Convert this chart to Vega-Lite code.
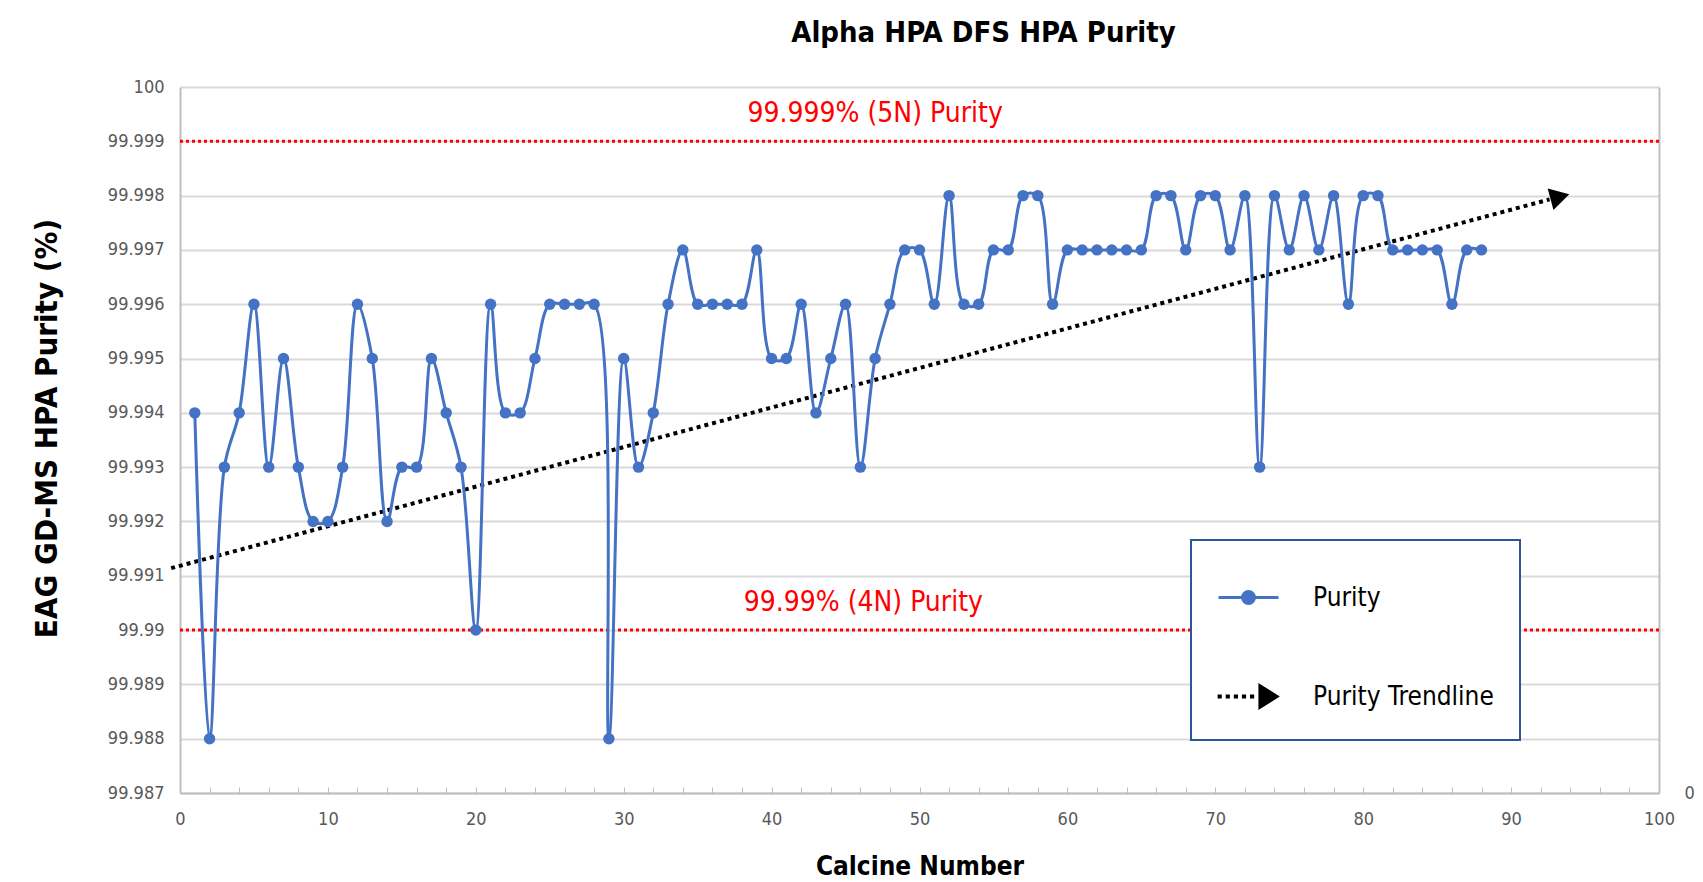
{
  "$schema": "https://vega.github.io/schema/vega-lite/v6.json",
  "width": 1479,
  "height": 706,
  "autosize": {"type": "none"},
  "padding": {"left": 180, "top": 87, "right": 44, "bottom": 89},
  "background": "white",
  "title": {
    "text": "Alpha HPA DFS HPA Purity",
    "anchor": "middle",
    "dx": 64,
    "offset": 30,
    "fontSize": 29,
    "fontWeight": "bold",
    "font": "'Liberation Sans Narrow', 'Arial Narrow', 'DejaVu Sans Condensed', sans-serif",
    "color": "#000000"
  },
  "config": {
    "view": {"stroke": null},
    "font": "'Liberation Sans Narrow', 'Arial Narrow', 'DejaVu Sans Condensed', sans-serif",
    "axis": {
      "labelFont": "'Liberation Sans Narrow', 'Arial Narrow', 'DejaVu Sans Condensed', sans-serif",
      "titleFont": "'Liberation Sans Narrow', 'Arial Narrow', 'DejaVu Sans Condensed', sans-serif",
      "labelFontSize": 18,
      "labelColor": "#595959",
      "titleFontSize": 26,
      "titleFontWeight": "bold",
      "titleColor": "#000000",
      "domainColor": "#bfbfbf",
      "domainWidth": 2,
      "tickColor": "#bfbfbf",
      "gridColor": "#d9d9d9",
      "gridWidth": 2
    },
    "axisX": {"labelOverlap": false, "labelFlush": false},
    "legend": {
      "labelFont": "'Liberation Sans Narrow', 'Arial Narrow', 'DejaVu Sans Condensed', sans-serif",
      "labelLimit": 400
    }
  },
  "datasets": {
    "purity": [
      {"calcine": 1, "purity": 99.994, "series": "Purity"},
      {"calcine": 2, "purity": 99.988, "series": "Purity"},
      {"calcine": 3, "purity": 99.993, "series": "Purity"},
      {"calcine": 4, "purity": 99.994, "series": "Purity"},
      {"calcine": 5, "purity": 99.996, "series": "Purity"},
      {"calcine": 6, "purity": 99.993, "series": "Purity"},
      {"calcine": 7, "purity": 99.995, "series": "Purity"},
      {"calcine": 8, "purity": 99.993, "series": "Purity"},
      {"calcine": 9, "purity": 99.992, "series": "Purity"},
      {"calcine": 10, "purity": 99.992, "series": "Purity"},
      {"calcine": 11, "purity": 99.993, "series": "Purity"},
      {"calcine": 12, "purity": 99.996, "series": "Purity"},
      {"calcine": 13, "purity": 99.995, "series": "Purity"},
      {"calcine": 14, "purity": 99.992, "series": "Purity"},
      {"calcine": 15, "purity": 99.993, "series": "Purity"},
      {"calcine": 16, "purity": 99.993, "series": "Purity"},
      {"calcine": 17, "purity": 99.995, "series": "Purity"},
      {"calcine": 18, "purity": 99.994, "series": "Purity"},
      {"calcine": 19, "purity": 99.993, "series": "Purity"},
      {"calcine": 20, "purity": 99.990, "series": "Purity"},
      {"calcine": 21, "purity": 99.996, "series": "Purity"},
      {"calcine": 22, "purity": 99.994, "series": "Purity"},
      {"calcine": 23, "purity": 99.994, "series": "Purity"},
      {"calcine": 24, "purity": 99.995, "series": "Purity"},
      {"calcine": 25, "purity": 99.996, "series": "Purity"},
      {"calcine": 26, "purity": 99.996, "series": "Purity"},
      {"calcine": 27, "purity": 99.996, "series": "Purity"},
      {"calcine": 28, "purity": 99.996, "series": "Purity"},
      {"calcine": 29, "purity": 99.988, "series": "Purity"},
      {"calcine": 30, "purity": 99.995, "series": "Purity"},
      {"calcine": 31, "purity": 99.993, "series": "Purity"},
      {"calcine": 32, "purity": 99.994, "series": "Purity"},
      {"calcine": 33, "purity": 99.996, "series": "Purity"},
      {"calcine": 34, "purity": 99.997, "series": "Purity"},
      {"calcine": 35, "purity": 99.996, "series": "Purity"},
      {"calcine": 36, "purity": 99.996, "series": "Purity"},
      {"calcine": 37, "purity": 99.996, "series": "Purity"},
      {"calcine": 38, "purity": 99.996, "series": "Purity"},
      {"calcine": 39, "purity": 99.997, "series": "Purity"},
      {"calcine": 40, "purity": 99.995, "series": "Purity"},
      {"calcine": 41, "purity": 99.995, "series": "Purity"},
      {"calcine": 42, "purity": 99.996, "series": "Purity"},
      {"calcine": 43, "purity": 99.994, "series": "Purity"},
      {"calcine": 44, "purity": 99.995, "series": "Purity"},
      {"calcine": 45, "purity": 99.996, "series": "Purity"},
      {"calcine": 46, "purity": 99.993, "series": "Purity"},
      {"calcine": 47, "purity": 99.995, "series": "Purity"},
      {"calcine": 48, "purity": 99.996, "series": "Purity"},
      {"calcine": 49, "purity": 99.997, "series": "Purity"},
      {"calcine": 50, "purity": 99.997, "series": "Purity"},
      {"calcine": 51, "purity": 99.996, "series": "Purity"},
      {"calcine": 52, "purity": 99.998, "series": "Purity"},
      {"calcine": 53, "purity": 99.996, "series": "Purity"},
      {"calcine": 54, "purity": 99.996, "series": "Purity"},
      {"calcine": 55, "purity": 99.997, "series": "Purity"},
      {"calcine": 56, "purity": 99.997, "series": "Purity"},
      {"calcine": 57, "purity": 99.998, "series": "Purity"},
      {"calcine": 58, "purity": 99.998, "series": "Purity"},
      {"calcine": 59, "purity": 99.996, "series": "Purity"},
      {"calcine": 60, "purity": 99.997, "series": "Purity"},
      {"calcine": 61, "purity": 99.997, "series": "Purity"},
      {"calcine": 62, "purity": 99.997, "series": "Purity"},
      {"calcine": 63, "purity": 99.997, "series": "Purity"},
      {"calcine": 64, "purity": 99.997, "series": "Purity"},
      {"calcine": 65, "purity": 99.997, "series": "Purity"},
      {"calcine": 66, "purity": 99.998, "series": "Purity"},
      {"calcine": 67, "purity": 99.998, "series": "Purity"},
      {"calcine": 68, "purity": 99.997, "series": "Purity"},
      {"calcine": 69, "purity": 99.998, "series": "Purity"},
      {"calcine": 70, "purity": 99.998, "series": "Purity"},
      {"calcine": 71, "purity": 99.997, "series": "Purity"},
      {"calcine": 72, "purity": 99.998, "series": "Purity"},
      {"calcine": 73, "purity": 99.993, "series": "Purity"},
      {"calcine": 74, "purity": 99.998, "series": "Purity"},
      {"calcine": 75, "purity": 99.997, "series": "Purity"},
      {"calcine": 76, "purity": 99.998, "series": "Purity"},
      {"calcine": 77, "purity": 99.997, "series": "Purity"},
      {"calcine": 78, "purity": 99.998, "series": "Purity"},
      {"calcine": 79, "purity": 99.996, "series": "Purity"},
      {"calcine": 80, "purity": 99.998, "series": "Purity"},
      {"calcine": 81, "purity": 99.998, "series": "Purity"},
      {"calcine": 82, "purity": 99.997, "series": "Purity"},
      {"calcine": 83, "purity": 99.997, "series": "Purity"},
      {"calcine": 84, "purity": 99.997, "series": "Purity"},
      {"calcine": 85, "purity": 99.997, "series": "Purity"},
      {"calcine": 86, "purity": 99.996, "series": "Purity"},
      {"calcine": 87, "purity": 99.997, "series": "Purity"},
      {"calcine": 88, "purity": 99.997, "series": "Purity"}
    ],
    "trend": [
      {"calcine": -0.6, "purity": 99.99114, "series": "Purity Trendline"},
      {"calcine": 92.6, "purity": 99.99793, "series": "Purity Trendline"}
    ],
    "arrow": [
      {"calcine": 93.3, "purity": 99.99798}
    ],
    "refs": [
      {"purity": 99.999},
      {"purity": 99.99}
    ],
    "reflabels": [
      {"calcine": 47.0, "purity": 99.9995, "label": "99.999% (5N) Purity"},
      {"calcine": 46.2, "purity": 99.9905, "label": "99.99% (4N) Purity"}
    ],
    "secondary": [
      {"v": 0}
    ]
  },
  "layer": [
    {
      "encoding": {
        "y": {
          "field": "purity",
          "type": "quantitative",
          "title": "EAG GD-MS HPA Purity (%)",
          "scale": {"domain": [99.987, 100], "nice": false, "zero": false},
          "axis": {
            "values": [99.987, 99.988, 99.989, 99.99, 99.991, 99.992, 99.993, 99.994, 99.995, 99.996, 99.997, 99.998, 99.999, 100],
            "format": ".3~f",
            "grid": true,
            "ticks": false,
            "labelPadding": 16,
            "titlePadding": 44,
            "titleFontSize": 31,
            "titleY": 341
          }
        }
      },
      "layer": [
        {
          "data": {"name": "refs"},
          "mark": {"type": "rule", "color": "#FF0000", "strokeWidth": 3, "strokeDash": [3, 3]},
          "encoding": {}
        },
        {
          "data": {"name": "reflabels"},
          "mark": {"type": "text", "color": "#FF0000", "fontSize": 28, "align": "center", "baseline": "middle"},
          "encoding": {
            "x": {
              "field": "calcine", "type": "quantitative", "title": "Calcine Number",
              "scale": {"domain": [0, 100], "nice": false, "zero": false},
              "axis": {
                "values": [0, 2, 4, 6, 8, 10, 12, 14, 16, 18, 20, 22, 24, 26, 28, 30, 32, 34, 36, 38, 40, 42, 44, 46, 48, 50, 52, 54, 56, 58, 60, 62, 64, 66, 68, 70, 72, 74, 76, 78, 80, 82, 84, 86, 88, 90, 92, 94, 96, 98, 100],
                "labelExpr": "datum.value % 10 === 0 ? datum.label : ''",
                "format": "d", "grid": false, "tickSize": -6, "labelPadding": 23, "titlePadding": 25, "labelFlush": false, "labelOverlap": false
              }
            },
            "text": {"field": "label", "type": "nominal"}
          }
        },
        {
          "data": {"name": "trend"},
          "mark": {"type": "line", "strokeWidth": 4, "strokeDash": [4, 4]},
          "encoding": {
            "x": {
              "field": "calcine", "type": "quantitative", "title": "Calcine Number",
              "scale": {"domain": [0, 100], "nice": false, "zero": false},
              "axis": {
                "values": [0, 2, 4, 6, 8, 10, 12, 14, 16, 18, 20, 22, 24, 26, 28, 30, 32, 34, 36, 38, 40, 42, 44, 46, 48, 50, 52, 54, 56, 58, 60, 62, 64, 66, 68, 70, 72, 74, 76, 78, 80, 82, 84, 86, 88, 90, 92, 94, 96, 98, 100],
                "labelExpr": "datum.value % 10 === 0 ? datum.label : ''",
                "format": "d", "grid": false, "tickSize": -6, "labelPadding": 23, "titlePadding": 25, "labelFlush": false, "labelOverlap": false
              }
            },
            "color": {
              "field": "series",
              "type": "nominal",
              "scale": {"domain": ["Purity", "Purity Trendline"], "range": ["#4472C4", "#000000"]},
              "legend": {
                "title": null,
                "orient": "none",
                "legendX": 1011,
                "legendY": 453,
                "padding": 26,
                "rowPadding": 54,
                "labelOffset": 33,
                "labelLimit": 400,
                "labelExpr": "datum.label + '\u00a0\u00a0'",
                "symbolSize": 3600,
                "symbolStrokeWidth": 3,
                "labelFontSize": 26,
                "labelColor": "#000000",
                "strokeColor": "#2F5597",
                "fillColor": "#ffffff",
                "encode": {
                  "legend": {"update": {"strokeWidth": {"value": 2}}},
                  "symbols": {
                    "update": {
                      "shape": [
                        {"test": "datum.value === 'Purity'", "value": "M-1,0H1M0.2,0A0.2,0.2,0,1,1,-0.2,0A0.2,0.2,0,1,1,0.2,0Z"},
                        {"value": "M-0.98,-0.02h0.04v0.04h-0.04ZM-0.71,-0.02h0.04v0.04h-0.04ZM-0.44,-0.02h0.04v0.04h-0.04ZM-0.17,-0.02h0.04v0.04h-0.04ZM0.1,-0.02h0.04v0.04h-0.04ZM0.38,-0.36L0.95,0L0.38,0.36Z"}
                      ],
                      "fill": [
                        {"test": "datum.value === 'Purity'", "value": "#4472C4"},
                        {"value": "#000000"}
                      ],
                      "stroke": [
                        {"test": "datum.value === 'Purity'", "value": "#4472C4"},
                        {"value": "#000000"}
                      ],
                      "strokeWidth": {"value": 3},
                      "opacity": {"value": 1}
                    }
                  }
                }
              }
            }
          }
        },
        {
          "data": {"name": "arrow"},
          "mark": {"type": "point", "shape": "triangle-right", "filled": true, "color": "#000000", "opacity": 1, "size": 500, "angle": -15},
          "encoding": {
            "x": {
              "field": "calcine", "type": "quantitative", "title": "Calcine Number",
              "scale": {"domain": [0, 100], "nice": false, "zero": false},
              "axis": {
                "values": [0, 2, 4, 6, 8, 10, 12, 14, 16, 18, 20, 22, 24, 26, 28, 30, 32, 34, 36, 38, 40, 42, 44, 46, 48, 50, 52, 54, 56, 58, 60, 62, 64, 66, 68, 70, 72, 74, 76, 78, 80, 82, 84, 86, 88, 90, 92, 94, 96, 98, 100],
                "labelExpr": "datum.value % 10 === 0 ? datum.label : ''",
                "format": "d", "grid": false, "tickSize": -6, "labelPadding": 23, "titlePadding": 25, "labelFlush": false, "labelOverlap": false
              }
            }
          }
        },
        {
          "data": {"name": "purity"},
          "mark": {"type": "line", "strokeWidth": 3, "interpolate": "catmull-rom"},
          "encoding": {
            "x": {
              "field": "calcine", "type": "quantitative", "title": "Calcine Number",
              "scale": {"domain": [0, 100], "nice": false, "zero": false},
              "axis": {
                "values": [0, 2, 4, 6, 8, 10, 12, 14, 16, 18, 20, 22, 24, 26, 28, 30, 32, 34, 36, 38, 40, 42, 44, 46, 48, 50, 52, 54, 56, 58, 60, 62, 64, 66, 68, 70, 72, 74, 76, 78, 80, 82, 84, 86, 88, 90, 92, 94, 96, 98, 100],
                "labelExpr": "datum.value % 10 === 0 ? datum.label : ''",
                "format": "d", "grid": false, "tickSize": -6, "labelPadding": 23, "titlePadding": 25, "labelFlush": false, "labelOverlap": false
              }
            },
            "color": {
              "field": "series",
              "type": "nominal",
              "scale": {"domain": ["Purity", "Purity Trendline"], "range": ["#4472C4", "#000000"]}
            }
          }
        },
        {
          "data": {"name": "purity"},
          "mark": {"type": "point", "filled": true, "color": "#4472C4", "opacity": 1, "size": 130},
          "encoding": {
            "x": {
              "field": "calcine", "type": "quantitative", "title": "Calcine Number",
              "scale": {"domain": [0, 100], "nice": false, "zero": false},
              "axis": {
                "values": [0, 2, 4, 6, 8, 10, 12, 14, 16, 18, 20, 22, 24, 26, 28, 30, 32, 34, 36, 38, 40, 42, 44, 46, 48, 50, 52, 54, 56, 58, 60, 62, 64, 66, 68, 70, 72, 74, 76, 78, 80, 82, 84, 86, 88, 90, 92, 94, 96, 98, 100],
                "labelExpr": "datum.value % 10 === 0 ? datum.label : ''",
                "format": "d", "grid": false, "tickSize": -6, "labelPadding": 23, "titlePadding": 25, "labelFlush": false, "labelOverlap": false
              }
            }
          }
        }
      ]
    },
    {
      "data": {"name": "secondary"},
      "mark": {"type": "point", "opacity": 0},
      "encoding": {
        "y": {
          "field": "v",
          "type": "quantitative",
          "scale": {"domain": [0, 1], "nice": false},
          "axis": {"orient": "right", "values": [0], "title": null, "grid": false, "ticks": false, "labelPadding": 25, "labelFontSize": 18}
        }
      }
    }
  ],
  "resolve": {"scale": {"y": "independent"}}
}
